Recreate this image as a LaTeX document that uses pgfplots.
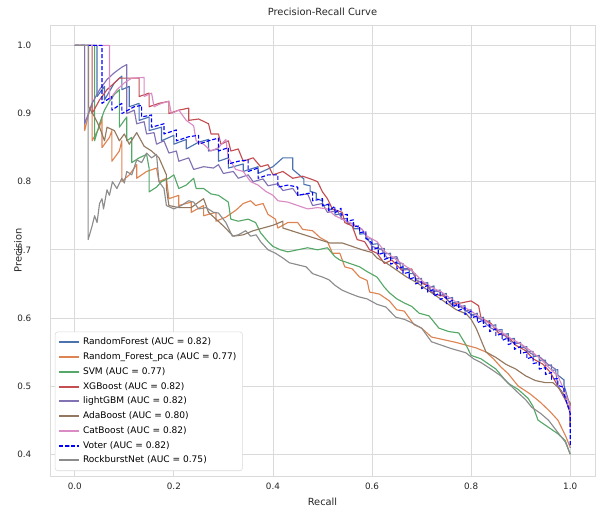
\documentclass[border=0pt]{standalone}
\usepackage{pgfplots}
\pgfplotsset{compat=1.18}
\usepackage{fontspec}
\setmainfont{DejaVu Sans}
\definecolor{cB}{HTML}{4C72B0}
\definecolor{cO}{HTML}{DD8452}
\definecolor{cG}{HTML}{55A868}
\definecolor{cR}{HTML}{C44E52}
\definecolor{cP}{HTML}{8172B3}
\definecolor{cN}{HTML}{937860}
\definecolor{cK}{HTML}{DA8BC3}
\definecolor{cY}{HTML}{8C8C8C}
\definecolor{txt}{HTML}{262626}
\definecolor{gridc}{HTML}{DADADA}
\pgfplotsset{legend image code/.code={\draw[mark repeat=2,mark phase=2,#1,line width=1.4pt] plot coordinates {(0pt,0pt) (7.5pt,0pt) (15pt,0pt)};}}
\begin{document}
\begin{tikzpicture}
\begin{axis}[
  at={(0,0)}, anchor=south west,
  scale only axis, width=408.75pt, height=338.25pt,
  xmin=-0.05, xmax=1.05, ymin=0.368, ymax=1.030,
  xtick={0,0.2,0.4,0.6,0.8,1.0}, ytick={0.4,0.5,0.6,0.7,0.8,0.9,1.0},
  /pgf/number format/fixed, /pgf/number format/fixed zerofill, /pgf/number format/precision=1,
  /pgf/number format/assume math mode=true,
  ticklabel style={font=\fontsize{6.6}{8}\selectfont, text=txt},
  xticklabel style={yshift=-2pt},
  yticklabel style={xshift=-10.5pt},
  major tick length=0pt,
  grid=major, major grid style={gridc, line width=0.6pt},
  axis line style={gridc, line width=0.6pt},
  title={Precision-Recall Curve},
  title style={at={(axis description cs:0.5,1.011)}, anchor=center, font=\fontsize{7.4}{9}\selectfont, text=txt},
  xlabel={Recall}, ylabel={Precision},
  xlabel style={at={(axis description cs:0.5,-0.0577)}, anchor=center, font=\fontsize{7.4}{9}\selectfont, text=txt},
  ylabel style={at={(axis description cs:-0.0587,0.5)}, anchor=center, font=\fontsize{7.4}{9}\selectfont, text=txt},
  legend style={at={(axis description cs:0.009,0.011)}, anchor=south west,
    font=\fontsize{6.8}{8}\selectfont, draw=gridc, rounded corners=2pt,
    fill=white, row sep=0.4pt, inner sep=2.5pt},
  legend cell align=left,
  every axis plot/.append style={line width=0.85pt, line join=round},
]
\addplot[cB] coordinates {
(0,1) (0.045,1) (0.045,0.925) (0.06,0.94) (0.06,0.92) (0.08,0.945) (0.095,0.955) (0.095,0.935)
(0.11,0.94) (0.11,0.91) (0.13,0.915) (0.13,0.89) (0.15,0.895) (0.15,0.875) (0.175,0.88) (0.175,0.86)
(0.2,0.868) (0.2,0.855) (0.225,0.862) (0.225,0.848) (0.25,0.858) (0.27,0.862) (0.27,0.845) (0.29,0.848)
(0.29,0.83) (0.31,0.835) (0.31,0.82) (0.34,0.826) (0.34,0.815) (0.37,0.822) (0.37,0.812) (0.40,0.822)
(0.42,0.835) (0.44,0.835) (0.44,0.818) (0.4625,0.804) (0.4625,0.796)
(0.475,0.794) (0.475,0.786) (0.4875,0.783) (0.4875,0.775) (0.5,0.772) (0.5,0.764) (0.5125,0.767) (0.5125,0.759)
(0.525,0.759) (0.525,0.751) (0.5375,0.753) (0.5375,0.745) (0.55,0.746) (0.55,0.738) (0.5625,0.739) (0.5625,0.731)
(0.575,0.731) (0.575,0.723) (0.5875,0.724) (0.5875,0.716) (0.6,0.716) (0.6,0.708) (0.6125,0.709) (0.6125,0.701)
(0.625,0.702) (0.625,0.694) (0.6375,0.695) (0.6375,0.687) (0.65,0.688) (0.65,0.68) (0.6625,0.68) (0.6625,0.672)
(0.675,0.673) (0.675,0.665) (0.6875,0.665) (0.6875,0.657) (0.7,0.658) (0.7,0.65) (0.7125,0.652) (0.7125,0.644)
(0.725,0.647) (0.725,0.639) (0.7375,0.641) (0.7375,0.633) (0.75,0.636) (0.75,0.628) (0.7625,0.63) (0.7625,0.622)
(0.775,0.624) (0.775,0.616) (0.7875,0.618) (0.7875,0.61) (0.8,0.612) (0.8,0.604) (0.8125,0.607) (0.8125,0.599)
(0.825,0.601) (0.825,0.593) (0.8375,0.596) (0.8375,0.588) (0.85,0.59) (0.85,0.582) (0.8625,0.583) (0.8625,0.575)
(0.875,0.577) (0.875,0.569) (0.8875,0.57) (0.8875,0.562) (0.9,0.564) (0.9,0.556) (0.9125,0.558) (0.9125,0.55)
(0.925,0.551) (0.925,0.543) (0.9375,0.545) (0.9375,0.537) (0.95,0.538) (0.95,0.53) (0.9625,0.531) (0.9625,0.523)
(0.975,0.524) (0.975,0.516) (0.9875,0.509) (0.9875,0.501) (1.0,0.47) (1.0,0.44)};
\addlegendentry{RandomForest (AUC = 0.82)}
\addplot[cO] coordinates {
(0,1) (0.02,1) (0.02,0.875) (0.03,0.905) (0.035,0.915) (0.035,0.86) (0.05,0.88) (0.055,0.895)
(0.055,0.85) (0.07,0.865) (0.075,0.875) (0.075,0.83) (0.09,0.845) (0.095,0.86) (0.095,0.80) (0.11,0.81)
(0.125,0.825) (0.125,0.805) (0.145,0.815) (0.165,0.82) (0.17,0.80) (0.185,0.805) (0.19,0.775) (0.21,0.78)
(0.21,0.765) (0.235,0.77) (0.235,0.755) (0.26,0.765) (0.26,0.75) (0.285,0.755) (0.285,0.742) (0.305,0.748)
(0.325,0.758) (0.34,0.768) (0.355,0.772) (0.365,0.765) (0.38,0.768) (0.39,0.752) (0.405,0.745) (0.41,0.732)
(0.43,0.74) (0.45,0.74) (0.46,0.73) (0.48,0.728) (0.495,0.718) (0.51,0.712) (0.52,0.695) (0.535,0.695)
(0.545,0.675) (0.56,0.672) (0.575,0.66) (0.59,0.655) (0.595,0.638) (0.615,0.635) (0.635,0.625) (0.65,0.612)
(0.665,0.61) (0.685,0.59) (0.70,0.585) (0.72,0.572) (0.745,0.568) (0.77,0.564) (0.79,0.56) (0.81,0.556)
(0.83,0.55) (0.845,0.54) (0.86,0.528) (0.875,0.518) (0.895,0.5) (0.92,0.488) (0.94,0.476) (0.96,0.462)
(0.975,0.45) (0.99,0.428) (1.0,0.41)};
\addlegendentry{Random\_Forest\_pca (AUC = 0.77)}
\addplot[cG] coordinates {
(0,1) (0.04,1) (0.04,0.86) (0.05,0.885) (0.06,0.905) (0.07,0.918) (0.08,0.928) (0.09,0.935)
(0.09,0.88) (0.1,0.89) (0.105,0.895) (0.105,0.86) (0.115,0.865) (0.115,0.828) (0.13,0.835) (0.145,0.84)
(0.15,0.82) (0.15,0.785) (0.165,0.792) (0.175,0.8) (0.19,0.805) (0.2,0.81) (0.21,0.79) (0.225,0.795)
(0.24,0.805) (0.245,0.79) (0.26,0.79) (0.275,0.782) (0.29,0.78) (0.3,0.775) (0.31,0.77) (0.315,0.745)
(0.33,0.742) (0.35,0.745) (0.365,0.74) (0.375,0.725) (0.39,0.712) (0.4,0.705) (0.415,0.7) (0.43,0.697)
(0.45,0.7) (0.47,0.703) (0.49,0.7) (0.51,0.703) (0.525,0.69) (0.535,0.685) (0.555,0.68) (0.575,0.675)
(0.59,0.668) (0.61,0.66) (0.625,0.645) (0.635,0.637) (0.65,0.628) (0.665,0.622) (0.68,0.617) (0.695,0.607)
(0.715,0.603) (0.735,0.585) (0.755,0.58) (0.775,0.578) (0.79,0.56) (0.8,0.545) (0.82,0.54) (0.85,0.525)
(0.865,0.512) (0.875,0.504) (0.895,0.495) (0.915,0.482) (0.925,0.47) (0.935,0.45) (0.955,0.44) (0.975,0.43)
(0.99,0.42) (1.0,0.40)};
\addlegendentry{SVM (AUC = 0.77)}
\addplot[cR] coordinates {
(0,1) (0.035,1) (0.035,0.90) (0.05,0.92) (0.065,0.935) (0.08,0.945) (0.09,0.952) (0.13,0.952)
(0.13,0.925) (0.15,0.93) (0.15,0.91) (0.17,0.915) (0.19,0.918) (0.19,0.9) (0.21,0.905) (0.23,0.908)
(0.23,0.89) (0.25,0.892) (0.27,0.885) (0.275,0.87) (0.29,0.87) (0.295,0.855) (0.31,0.86) (0.315,0.845)
(0.33,0.848) (0.34,0.83) (0.36,0.835) (0.375,0.822) (0.39,0.825) (0.40,0.81) (0.42,0.815) (0.44,0.805)
(0.46,0.808) (0.48,0.803) (0.49,0.8) (0.5,0.785) (0.51,0.775) (0.52,0.76) (0.54,0.755) (0.545,0.74)
(0.56,0.735) (0.57,0.715) (0.585,0.712) (0.595,0.7) (0.61,0.695) (0.625,0.68) (0.64,0.685) (0.66,0.67)
(0.68,0.672) (0.69,0.655) (0.71,0.648) (0.725,0.635) (0.745,0.632) (0.76,0.62) (0.78,0.622) (0.8,0.625)
(0.815,0.618) (0.82,0.6) (0.84,0.592) (0.855,0.578) (0.875,0.572) (0.89,0.56) (0.91,0.552) (0.925,0.54)
(0.945,0.532) (0.96,0.52) (0.975,0.5) (0.99,0.48) (1.0,0.465) (1.0,0.44)};
\addlegendentry{XGBoost (AUC = 0.82)}
\addplot[cP] coordinates {
(0,1) (0.02,1) (0.02,0.885) (0.035,0.915) (0.05,0.935) (0.065,0.95) (0.08,0.96) (0.095,0.968)
(0.105,0.972) (0.105,0.90) (0.12,0.905) (0.125,0.885) (0.14,0.888) (0.145,0.87) (0.16,0.872) (0.165,0.855)
(0.18,0.86) (0.19,0.842) (0.205,0.845) (0.21,0.83) (0.23,0.835) (0.24,0.818) (0.26,0.822) (0.28,0.82)
(0.29,0.825) (0.3,0.812) (0.32,0.815) (0.33,0.805) (0.35,0.81) (0.36,0.8) (0.38,0.804) (0.39,0.794)
(0.41,0.797) (0.42,0.787) (0.44,0.79) (0.45,0.78) (0.47,0.782) (0.48,0.765) (0.5,0.768) (0.51,0.755)
(0.53,0.757) (0.54,0.745) (0.56,0.738) (0.58,0.73) (0.6,0.705) (0.62,0.7) (0.63,0.688) (0.65,0.69)
(0.66,0.672) (0.68,0.67) (0.69,0.655) (0.71,0.65) (0.72,0.64) (0.74,0.638) (0.76,0.62) (0.78,0.616)
(0.8,0.605) (0.82,0.598) (0.84,0.585) (0.86,0.58) (0.88,0.565) (0.9,0.562) (0.92,0.548) (0.94,0.542)
(0.955,0.532) (0.97,0.525) (0.975,0.5) (0.99,0.482) (1.0,0.46) (1.0,0.45)};
\addlegendentry{lightGBM (AUC = 0.82)}
\addplot[cN] coordinates {
(0,1) (0.028,1) (0.028,0.91) (0.04,0.895) (0.05,0.88) (0.06,0.86) (0.065,0.88) (0.08,0.875)
(0.09,0.86) (0.1,0.87) (0.11,0.855) (0.125,0.872) (0.14,0.852) (0.155,0.845) (0.17,0.835) (0.185,0.81)
(0.185,0.79) (0.19,0.765) (0.21,0.762) (0.235,0.762) (0.25,0.77) (0.26,0.775) (0.27,0.755) (0.285,0.745)
(0.3,0.735) (0.32,0.72) (0.34,0.722) (0.36,0.728) (0.38,0.732) (0.4,0.736) (0.42,0.742) (0.42,0.732)
(0.515,0.71) (0.54,0.71) (0.56,0.705) (0.58,0.70) (0.6,0.696) (0.61,0.688) (0.63,0.68) (0.65,0.67)
(0.67,0.66) (0.69,0.652) (0.71,0.642) (0.73,0.632) (0.75,0.622) (0.77,0.612) (0.79,0.606) (0.80,0.598)
(0.81,0.585) (0.83,0.55) (0.85,0.542) (0.87,0.532) (0.89,0.525) (0.91,0.515) (0.93,0.508) (0.95,0.505)
(0.965,0.505) (0.98,0.495) (0.99,0.485) (1.0,0.475) (1.0,0.44)};
\addlegendentry{AdaBoost (AUC = 0.80)}
\addplot[cK] coordinates {
(0,1) (0.07,1) (0.07,0.92) (0.085,0.935) (0.1,0.945) (0.115,0.952) (0.14,0.953) (0.14,0.925)
(0.155,0.93) (0.16,0.91) (0.175,0.915) (0.19,0.918) (0.195,0.9) (0.21,0.905) (0.225,0.89) (0.24,0.882)
(0.245,0.86) (0.26,0.855) (0.275,0.845) (0.29,0.85) (0.305,0.862) (0.31,0.835) (0.325,0.818) (0.34,0.815)
(0.355,0.8) (0.37,0.795) (0.385,0.786) (0.4,0.78) (0.41,0.772) (0.43,0.77) (0.45,0.765) (0.47,0.76)
(0.49,0.762) (0.51,0.76) (0.525,0.75) (0.54,0.745) (0.56,0.738) (0.58,0.73) (0.59,0.72) (0.61,0.712)
(0.625,0.698) (0.64,0.69) (0.66,0.68) (0.68,0.67) (0.7,0.655) (0.72,0.645) (0.74,0.638) (0.76,0.628)
(0.78,0.618) (0.8,0.61) (0.82,0.6) (0.84,0.59) (0.86,0.58) (0.88,0.57) (0.9,0.562) (0.92,0.552)
(0.94,0.54) (0.96,0.525) (0.975,0.515) (0.99,0.49) (1.0,0.47) (1.0,0.45)};
\addlegendentry{CatBoost (AUC = 0.82)}
\addplot[color=blue, dash pattern=on 3pt off 1.5pt] coordinates {
(0,1) (0.055,1) (0.055,0.915) (0.075,0.925) (0.075,0.905) (0.095,0.915) (0.095,0.90) (0.12,0.91)
(0.135,0.912) (0.135,0.895) (0.155,0.898) (0.155,0.88) (0.18,0.885) (0.18,0.87) (0.205,0.876) (0.205,0.86)
(0.23,0.866) (0.25,0.868) (0.25,0.855) (0.27,0.86) (0.29,0.864) (0.29,0.845) (0.31,0.85) (0.31,0.826)
(0.33,0.83) (0.35,0.832) (0.35,0.815) (0.37,0.82) (0.37,0.805) (0.39,0.81) (0.41,0.81) (0.41,0.792)
(0.43,0.795) (0.45,0.792) (0.45,0.78) (0.48,0.784) (0.48,0.772) (0.5,0.775) (0.5,0.765)
(0.5125,0.767) (0.5125,0.757) (0.525,0.764) (0.525,0.754) (0.5375,0.761) (0.5375,0.751) (0.55,0.752) (0.55,0.742)
(0.5625,0.744) (0.5625,0.734) (0.575,0.735) (0.575,0.725) (0.5875,0.727) (0.5875,0.717) (0.6,0.71) (0.6,0.70)
(0.6125,0.703) (0.6125,0.693) (0.625,0.696) (0.625,0.686) (0.6375,0.689) (0.6375,0.679) (0.65,0.682) (0.65,0.672)
(0.6625,0.675) (0.6625,0.665) (0.675,0.667) (0.675,0.657) (0.6875,0.66) (0.6875,0.65) (0.7,0.653) (0.7,0.643)
(0.7125,0.648) (0.7125,0.638) (0.725,0.642) (0.725,0.632) (0.7375,0.637) (0.7375,0.627) (0.75,0.631) (0.75,0.621)
(0.7625,0.626) (0.7625,0.616) (0.775,0.621) (0.775,0.611) (0.7875,0.615) (0.7875,0.605) (0.8,0.61) (0.8,0.60)
(0.8125,0.603) (0.8125,0.593) (0.825,0.597) (0.825,0.587) (0.8375,0.59) (0.8375,0.58) (0.85,0.584) (0.85,0.574)
(0.8625,0.577) (0.8625,0.567) (0.875,0.571) (0.875,0.561) (0.8875,0.564) (0.8875,0.554) (0.9,0.558) (0.9,0.548)
(0.9125,0.55) (0.9125,0.54) (0.925,0.543) (0.925,0.533) (0.9375,0.535) (0.9375,0.525) (0.95,0.527) (0.95,0.517)
(0.9625,0.52) (0.9625,0.51) (0.975,0.511) (0.975,0.501) (0.9875,0.498) (0.9875,0.488) (1.0,0.46) (1.0,0.41)};
\addlegendentry{Voter (AUC = 0.82)}
\addplot[cY] coordinates {
(0,1) (0.027,1) (0.027,0.715) (0.035,0.735) (0.04,0.75) (0.045,0.74) (0.05,0.768) (0.055,0.775)
(0.058,0.76) (0.065,0.788) (0.07,0.78) (0.076,0.8) (0.085,0.79) (0.095,0.805) (0.1,0.798) (0.105,0.815)
(0.115,0.81) (0.125,0.832) (0.135,0.828) (0.145,0.842) (0.155,0.835) (0.165,0.84) (0.17,0.8) (0.18,0.79)
(0.185,0.765) (0.2,0.76) (0.215,0.765) (0.23,0.772) (0.24,0.77) (0.25,0.76) (0.265,0.762) (0.28,0.755)
(0.29,0.754) (0.305,0.74) (0.318,0.72) (0.33,0.722) (0.345,0.728) (0.355,0.72) (0.366,0.722) (0.375,0.712)
(0.39,0.7) (0.405,0.695) (0.42,0.688) (0.433,0.681) (0.45,0.678) (0.467,0.675) (0.48,0.665) (0.5,0.66)
(0.513,0.656) (0.525,0.648) (0.539,0.641) (0.555,0.636) (0.573,0.631) (0.59,0.628) (0.61,0.62) (0.628,0.616)
(0.648,0.601) (0.665,0.598) (0.68,0.593) (0.7,0.585) (0.72,0.565) (0.74,0.56) (0.76,0.555) (0.789,0.549)
(0.805,0.54) (0.821,0.534) (0.84,0.525) (0.86,0.515) (0.875,0.504) (0.895,0.49) (0.91,0.48) (0.922,0.469)
(0.94,0.46) (0.956,0.45) (0.976,0.431) (0.99,0.418) (1.0,0.40)};
\addlegendentry{RockburstNet (AUC = 0.75)}
\end{axis}
\path[use as bounding box] (-37.5pt,-24pt) rectangle (413.25pt,357pt);
\end{tikzpicture}
\end{document}
